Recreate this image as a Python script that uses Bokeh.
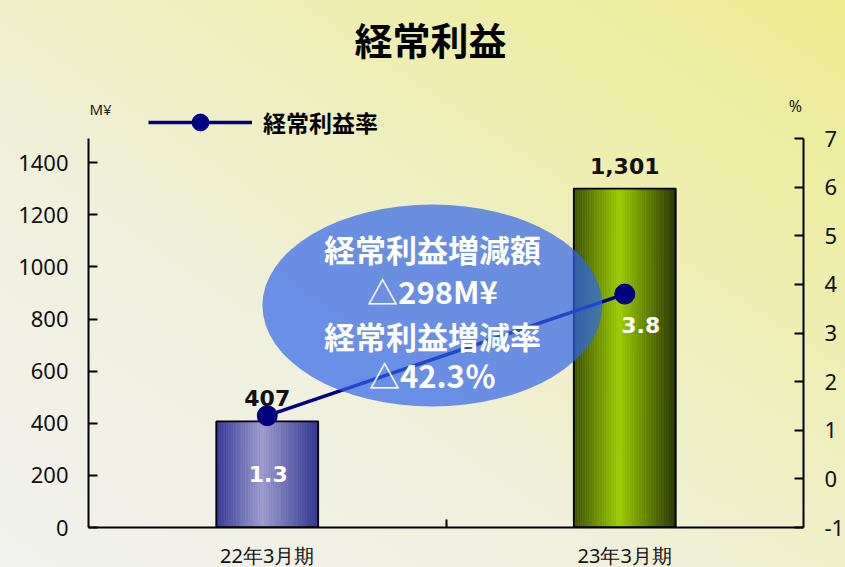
from bokeh.plotting import figure
from bokeh.models import (Range1d, LinearAxis, FixedTicker, Label, Legend, LegendItem,
                          GlobalInlineStyleSheet)
from bokeh.core.properties import value
from bokeh.embed import file_html
from bokeh.resources import INLINE

# ---- data ----
categories = ["22年3月期", "23年3月期"]
profit = [407, 1301]          # 経常利益 (M¥)
rate = [1.3, 3.8]             # 経常利益率 (%)
left_ticks = [0, 200, 400, 600, 800, 1000, 1200, 1400]
right_ticks = [-1, 0, 1, 2, 3, 4, 5, 6, 7]
left_max = 1493
title_text = "経常利益"
series_name = "経常利益率"
callout_lines = ["経常利益増減額", "△298M¥", "経常利益増減率", "△42.3％"]

JP = "Noto Sans CJK JP"
NUM = "DejaVu Sans"

# layout: plotting area 715 x 389 px; frame extends to top of canvas so that
# title / legend / unit labels above the axes are not clipped
FW, AXIS_H, FH = 715, 389, 527
lo, hi = right_ticks[0], right_ticks[-1]
p = figure(frame_width=FW, frame_height=FH, output_backend="svg", toolbar_location=None,
           x_range=Range1d(0, len(categories)),
           y_range=Range1d(0, left_max * FH / AXIS_H),
           min_border_left=88, min_border_right=42, min_border_top=0, min_border_bottom=40)
p.title.text = ""
p.title.visible = False
p.background_fill_color = None
p.border_fill_color = None
p.outline_line_color = None
p.xgrid.visible = False
p.ygrid.visible = False
p.extra_y_ranges = {"pct": Range1d(lo, lo + (hi - lo) * FH / AXIS_H)}
p.stylesheets = [GlobalInlineStyleSheet(css=(
    "html{min-height:100%;overflow:hidden;background:linear-gradient(to top right,"
    "#f1f1ee 0%,#f0f0de 35%,#eeeeb4 68%,#ecec90 100%);}"
    "body{background:transparent;overflow:hidden;}"))]

centers = [i + 0.5 for i in range(len(categories))]

# ---- axes ----
def style_axis(ax):
    ax.axis_line_color = "black"
    ax.axis_line_width = 2
    ax.major_tick_line_color = "black"
    ax.major_tick_line_width = 2
    ax.major_tick_in = 9
    ax.major_tick_out = 0
    ax.minor_tick_line_color = None
    ax.major_label_text_font = "Noto Sans"
    ax.major_label_text_font_size = "22px"
    ax.major_label_text_color = "#111111"

ya = p.yaxis[0]
ya.ticker = FixedTicker(ticks=left_ticks)
ya.bounds = (0, left_max)
style_axis(ya)
ya.major_label_standoff = 20

ra = LinearAxis(y_range_name="pct", ticker=FixedTicker(ticks=right_ticks), bounds=(lo, hi))
style_axis(ra)
ra.major_label_standoff = 21
ra.major_label_overrides = {t: str(t) for t in right_ticks}
p.add_layout(ra, "right")

xa = p.xaxis[0]
xa.ticker = FixedTicker(ticks=centers, minor_ticks=[1])
xa.major_label_overrides = {c: lab for c, lab in zip(centers, categories)}
xa.axis_line_color = "black"
xa.axis_line_width = 2
xa.major_tick_line_color = None
xa.major_tick_in = 0
xa.major_tick_out = 0
xa.minor_tick_line_color = "black"
xa.minor_tick_line_width = 2
xa.minor_tick_in = 8
xa.minor_tick_out = 0
xa.major_label_text_font = "Noto Sans"
xa.major_label_text_font_size = "20px"
xa.major_label_text_color = "#111111"
xa.major_label_standoff = 14

# ---- gradient bars ----
BAR_W = 0.285
stops = [
    [(0.0, (52, 56, 150)), (0.45, (157, 154, 206)), (1.0, (46, 52, 145))],
    [(0.0, (60, 80, 0)), (0.45, (155, 205, 0)), (1.0, (38, 52, 0))],
]

def interp(st, t):
    for (t0, c0), (t1, c1) in zip(st[:-1], st[1:]):
        if t0 <= t <= t1:
            f = (t - t0) / (t1 - t0)
            return "#%02x%02x%02x" % tuple(int(round(a + (b - a) * f)) for a, b in zip(c0, c1))
    return "#%02x%02x%02x" % st[-1][1]

N = 60
for i, (c, v) in enumerate(zip(centers, profit)):
    xs = [c - BAR_W / 2 + (k + 0.5) * BAR_W / N for k in range(N)]
    cols = [interp(stops[i], (k + 0.5) / N) for k in range(N)]
    p.vbar(x=xs, top=[v] * N, bottom=0, width=BAR_W / N, fill_color=cols,
           line_color=cols, line_width=0.6)
p.vbar(x=centers, top=profit, bottom=0, width=BAR_W, fill_alpha=0,
       line_color="black", line_width=1.8)

# ---- rate line ----
ln = p.line(x=centers, y=rate, y_range_name="pct", line_color="#000080", line_width=3.5)
sc = p.scatter(x=centers, y=rate, y_range_name="pct", size=20, fill_color="#000080",
               line_color="#000080")

# ---- callout ellipse ----
EX, EY = 0.962, 852
p.ellipse(x=[EX], y=[EY], width=340, height=202, width_units="screen",
          height_units="screen", fill_color="#3065eb", fill_alpha=0.7, line_color=None)
p.text(x=[EX] * 4, y=[EY] * 4, text=callout_lines, y_offset=[-57, -15, 30, 69],
       text_align="center", text_baseline="middle", text_font=value(JP),
       text_font_style="bold", text_font_size="31px", text_color="white")

# ---- value labels ----
p.text(x=centers, y=profit, text=[f"{v:,}" for v in profit], text_align="center",
       text_baseline="middle", y_offset=-23, text_font=value(NUM),
       text_font_style="bold", text_font_size="22px", text_color="#111111")
p.text(x=centers[:1], y=rate[:1], y_range_name="pct", text=[f"{rate[0]:.1f}"],
       text_align="center", text_baseline="middle", x_offset=1, y_offset=58,
       text_font=value(NUM), text_font_style="bold", text_font_size="22px",
       text_color="white")
p.text(x=centers[1:], y=rate[1:], y_range_name="pct", text=[f"{rate[1]:.1f}"],
       text_align="center", text_baseline="middle", x_offset=16, y_offset=31,
       text_font=value(NUM), text_font_style="bold", text_font_size="22px",
       text_color="white")

# ---- title & unit labels (frame-relative screen units) ----
p.add_layout(Label(x=342, y=489, x_units="screen", y_units="screen", text=title_text,
                   text_align="center", text_baseline="middle", text_font=JP,
                   text_font_style="bold", text_font_size="38px", text_color="black"))
p.add_layout(Label(x=1, y=419, x_units="screen", y_units="screen", text="M¥",
                   text_align="left", text_baseline="middle", text_font="Noto Sans",
                   text_font_size="15px", text_color="#222222"))
p.add_layout(Label(x=707, y=422, x_units="screen", y_units="screen", text="%",
                   text_align="center", text_baseline="middle", text_font="Noto Sans",
                   text_font_size="16px", text_color="#222222"))

# ---- legend ----
legend = Legend(items=[LegendItem(label=series_name, renderers=[ln, sc])],
                location=(60, 384), padding=0, margin=0, spacing=0,
                glyph_width=104, glyph_height=42, label_height=42, label_standoff=11,
                label_text_font=JP, label_text_font_style="bold",
                label_text_font_size="23px", label_text_color="black",
                border_line_alpha=0, background_fill_alpha=0)
p.add_layout(legend)

open("out.html", "w").write(file_html(p, INLINE))
